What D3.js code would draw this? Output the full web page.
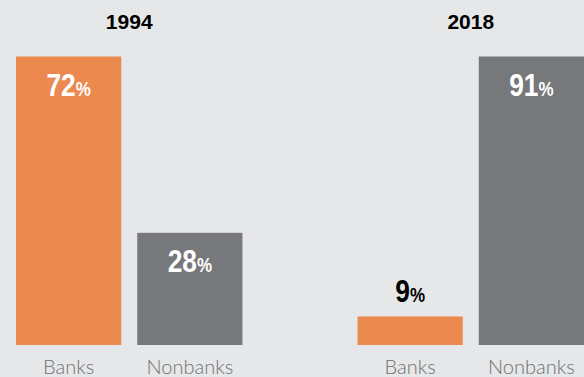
<!DOCTYPE html>
<html>
<head>
<meta charset="utf-8">
<script src="https://cdn.jsdelivr.net/npm/d3@7"></script>
<style>
  html, body { margin: 0; padding: 0; background: #e6e7e8; }
  svg { display: block; }
</style>
</head>
<body>
<svg id="chart" width="584" height="377"></svg>
<script>
// Data
var years = ['1994', '2018'];
var categories = ['Banks', 'Nonbanks'];
var share1994 = [72, 28];
var share2018 = [9, 91];
var shares = { '1994': share1994, '2018': share2018 };

var W = 584, H = 377;
var BASE = 345, TOP = 56.5;
var colour = { 'Banks': '#eb894f', 'Nonbanks': '#77787b' };
var sans = "'Liberation Sans', Arial, sans-serif";

var svg = d3.select('#chart');
svg.append('rect').attr('width', W).attr('height', H).attr('fill', '#e6e7e8');

// one panel per year, two bars in each
var x0 = d3.scaleBand().domain(years).range([16, 584]).paddingInner(0.337);
var x1 = d3.scaleBand().domain(categories).range([0, x0.bandwidth()]).paddingInner(0.132);

years.forEach(function (year) {
    var vals = shares[year];
    var y = d3.scaleLinear().domain([0, d3.max(vals)]).range([BASE, TOP]);
    var g = svg.append('g').attr('transform', 'translate(' + x0(year) + ',0)');

    // year title
    g.append('text')
        .attr('x', x0.bandwidth() / 2)
        .attr('y', 29)
        .attr('text-anchor', 'middle')
        .attr('font-family', sans)
        .attr('font-weight', 'bold')
        .attr('font-size', 21)
        .attr('fill', '#000')
        .text(year);

    var data = categories.map(function (c, i) { return { cat: c, v: vals[i] }; });

    g.selectAll('rect.bar').data(data).enter().append('rect')
        .attr('class', 'bar')
        .attr('x', function (d) { return x1(d.cat); })
        .attr('y', function (d) { return y(d.v); })
        .attr('width', x1.bandwidth())
        .attr('height', function (d) { return BASE - y(d.v); })
        .attr('fill', function (d) { return colour[d.cat]; });

    // value labels: inside the bar if tall enough, otherwise above it
    // (squeezed horizontally to mimic the condensed face)
    var inside = function (d) { return BASE - y(d.v) > 60; };
    var lbl = g.selectAll('g.val').data(data).enter().append('g')
        .attr('class', 'val')
        .attr('transform', function (d) {
            var cx = x1(d.cat) + x1.bandwidth() / 2;
            var ty = inside(d) ? y(d.v) + 39 : y(d.v) - 14;
            return 'translate(' + cx + ',' + ty + ') scale(0.85,1)';
        })
        .append('text')
        .attr('text-anchor', 'middle')
        .attr('font-family', sans)
        .attr('font-weight', 'bold')
        .attr('fill', function (d) { return inside(d) ? '#fff' : '#000'; });
    lbl.append('tspan').attr('font-size', 31).text(function (d) { return d.v; });
    lbl.append('tspan').attr('font-size', 20).text('%');

    // category labels
    g.selectAll('text.cat').data(data).enter().append('text')
        .attr('class', 'cat')
        .attr('x', function (d) { return x1(d.cat) + x1.bandwidth() / 2; })
        .attr('y', 374)
        .attr('text-anchor', 'middle')
        .attr('font-family', "Lato, 'Open Sans', sans-serif")
        .attr('font-weight', 300)
        .attr('font-size', 20)
        .attr('fill', '#6f7072')
        .text(function (d) { return d.cat; });
});
</script>
</body>
</html>
